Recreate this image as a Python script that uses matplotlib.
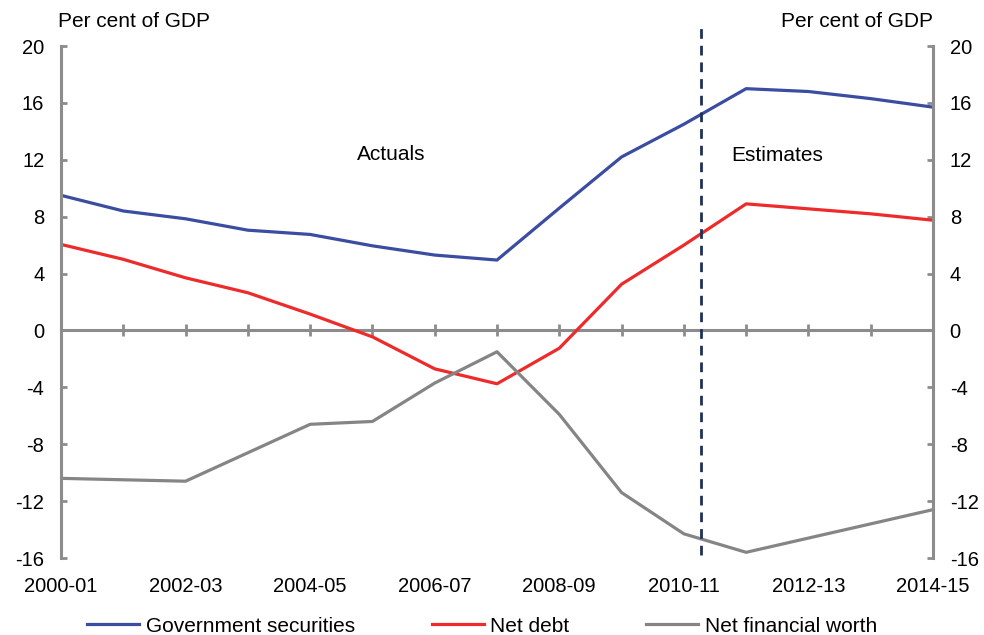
import numpy as np
import matplotlib.pyplot as plt

plt.rcParams['font.family'] = ['Liberation Sans', 'DejaVu Sans']
plt.rcParams['axes.unicode_minus'] = False

years = ['2000-01', '2001-02', '2002-03', '2003-04', '2004-05', '2005-06', '2006-07',
         '2007-08', '2008-09', '2009-10', '2010-11', '2011-12', '2012-13', '2013-14', '2014-15']
gov_sec = [9.5, 8.4, 7.85, 7.05, 6.75, 5.95, 5.3, 4.95, 8.6, 12.2, 14.5, 17.0, 16.8, 16.3, 15.7]
net_debt = [6.05, 5.0, 3.7, 2.65, 1.15, -0.45, -2.7, -3.75, -1.25, 3.25, 6.0, 8.9, 8.55, 8.2, 7.75]
net_fin = [-10.4, -10.5, -10.6, -8.6, -6.6, -6.4, -3.7, -1.5, -5.9, -11.4, -14.3, -15.6, -14.6, -13.6, -12.6]
split_pos = 10.27  # actuals / estimates break

blue = '#3A4DA0'
red = '#EE2A2A'
grey = '#858585'
axis_grey = '#8C8C8C'

fig = plt.figure(figsize=(9.84, 6.35), dpi=100)
ax = fig.add_axes([61/984, 1-558/635, 872/984, 512/635])
x = np.arange(len(years))

ax.plot(x, gov_sec, color=blue, lw=2.3, label='Government securities', solid_joinstyle='round')
ax.plot(x, net_debt, color=red, lw=2.3, label='Net debt', solid_joinstyle='round')
ax.plot(x, net_fin, color=grey, lw=2.3, label='Net financial worth', solid_joinstyle='round')

ax.plot([split_pos, split_pos], [-15.8, 21.5], color='#1F3158', lw=2, ls=(0, (3.5, 2.5)),
        clip_on=False, zorder=5)

ax.set_xlim(0, len(years)-1)
ax.set_ylim(-16, 20)
ax.set_yticks(np.arange(-16, 21, 4))

ax.spines['top'].set_visible(False)
for s in ['left', 'right', 'bottom']:
    ax.spines[s].set_color(axis_grey)
    ax.spines[s].set_linewidth(2.2)
ax.spines['bottom'].set_position(('data', 0))
ax.spines['bottom'].set_zorder(1)

ax.set_xticks(x)
ax.tick_params(axis='x', direction='inout', length=9, width=2, color=axis_grey, labelbottom=False)
ax.tick_params(axis='y', direction='in', length=4, width=2, color=axis_grey,
               labelsize=14.5, right=True, labelright=True, pad=12)

for i in range(0, len(years), 2):
    ax.annotate(years[i], xy=(i, 0), xycoords=('data', 'axes fraction'), xytext=(0, -14),
                textcoords='offset points', ha='center', va='top', fontsize=14.5)

ax.text(-0.003, 1.047, 'Per cent of GDP', transform=ax.transAxes, fontsize=15, ha='left', va='center')
ax.text(1, 1.047, 'Per cent of GDP', transform=ax.transAxes, fontsize=15, ha='right', va='center')
ax.text(5.3, 12.4, 'Actuals', fontsize=15, ha='center', va='center')
ax.text(11.5, 12.3, 'Estimates', fontsize=15, ha='center', va='center')

fig.legend(loc='center', bbox_to_anchor=(0.49, 1-626/635), ncol=3, frameon=False,
           fontsize=15, handlelength=2.5, handletextpad=0.3, columnspacing=3.7)

fig.savefig('out.png', dpi=100)
